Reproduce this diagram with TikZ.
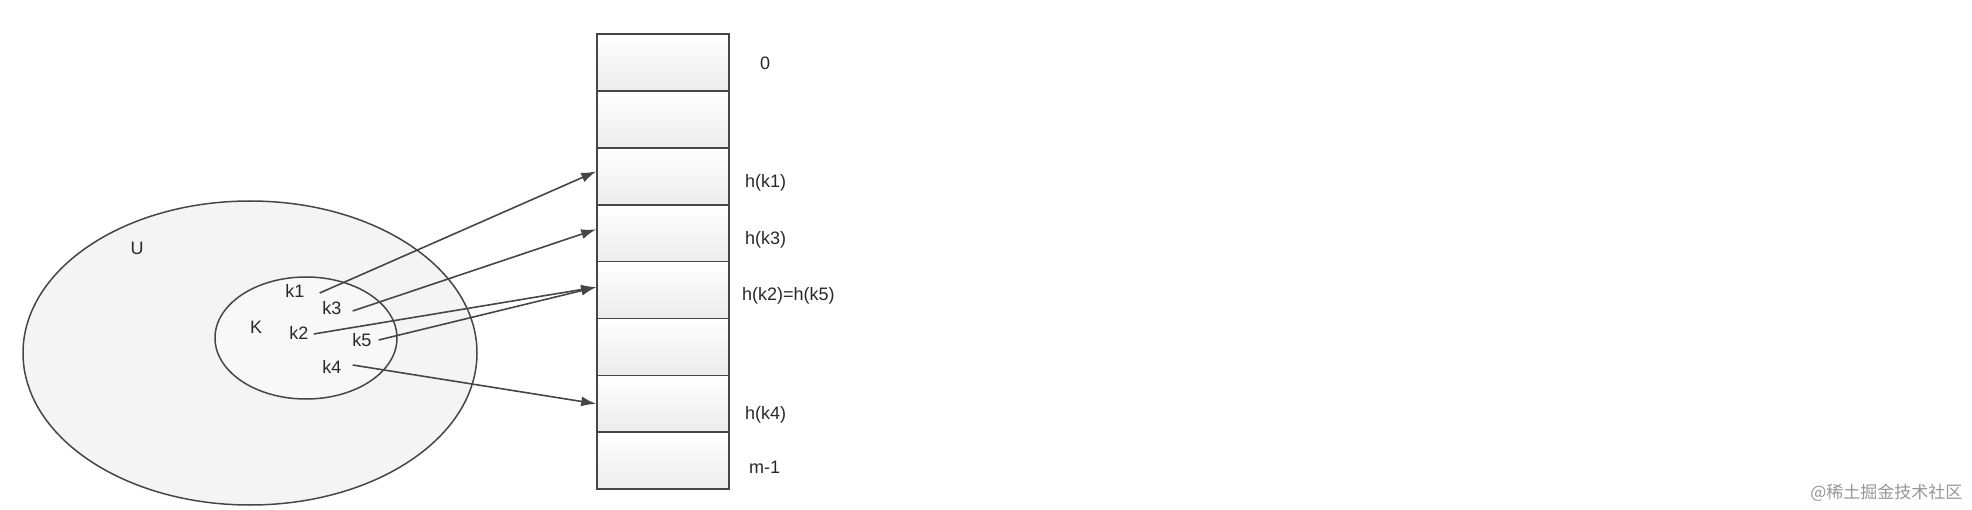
\documentclass[tikz,border=0pt]{standalone}
\usepackage{fontspec}
\setmainfont{Liberation Sans}
\newfontfamily\cjk{Noto Sans CJK SC}
\usepackage{tikz}
\usetikzlibrary{arrows.meta, positioning, calc}
\definecolor{lineg}{RGB}{70, 70, 70}
\definecolor{textg}{RGB}{40, 40, 40}
\definecolor{setfill}{RGB}{244, 244, 244}
\definecolor{cellbot}{RGB}{236, 236, 236}
\definecolor{markg}{RGB}{150, 150, 150}

\begin{document}
\begin{tikzpicture}[x=1pt, y=-1pt,
  cell/.style={draw=lineg, line width=1.6pt, minimum width=132pt, minimum height=56.85pt,
    inner sep=0pt, top color=white, bottom color=cellbot},
  lbl/.style={font=\fontsize{18}{21}\selectfont, text=textg, inner sep=3pt},
  hashto/.style={draw=lineg, line width=1.6pt, -{Latex[length=15pt, width=10pt]}}
]
  \useasboundingbox (0,0) rectangle (1972,510);

  % Universe and key set
  \draw[lineg, line width=1.5pt, fill=setfill] (250,353) ellipse [x radius=227pt, y radius=152pt];
  \draw[lineg, line width=1.5pt, fill=setfill!60!white] (306,338) ellipse [x radius=91pt, y radius=61pt];
  \node[lbl] (U) at (137,248) {U};
  \node[lbl] (K) at (256,327) {K};

  % Keys
  \node[lbl] (k1) at (295,291) {k1};
  \node[lbl] (k3) at (332,308) {k3};
  \node[lbl] (k2) at (299,333) {k2};
  \node[lbl] (k5) at (362,340) {k5};
  \node[lbl] (k4) at (332,367) {k4};

  % Hash table slots
  \foreach \i in {0,...,7}
    \node[cell] (c\i) at (663, 62.7+56.85*\i) {};

  % Slot labels
  \node[lbl, anchor=west] (s0) at (757,63) {0};
  \node[lbl, anchor=west] (s2) at (742,183) {h(k1)};
  \node[lbl, anchor=west] (s3) at (742,240) {h(k3)};
  \node[lbl, anchor=west] (s4) at (739,296) {h(k2)=h(k5)};
  \node[lbl, anchor=west] (s6) at (742,415) {h(k4)};
  \node[lbl, anchor=west] (s7) at (746,467) {m-1};

  % Hash arrows
  \draw[hashto] ([xshift=12pt, yshift=-2pt]k1.east) -- ([yshift=5pt]c2.west);
  \draw[hashto] ([xshift=8pt, yshift=-3pt]k3.east) -- ([yshift=4pt]c3.west);
  \draw[hashto] ([xshift=2pt, yshift=-1pt]k2.east) -- ([yshift=3pt]c4.west);
  \draw[hashto] ([xshift=4pt]k5.east) -- ([yshift=3pt]c4.west);
  \draw[hashto] ([xshift=8pt, yshift=2pt]k4.east) -- (c6.west);

  % Watermark
  \node[font=\cjk\fontsize{17}{20}\selectfont, text=markg, anchor=east] (mark) at (1966,493) {@稀土掘金技术社区};
\end{tikzpicture}
\end{document}
